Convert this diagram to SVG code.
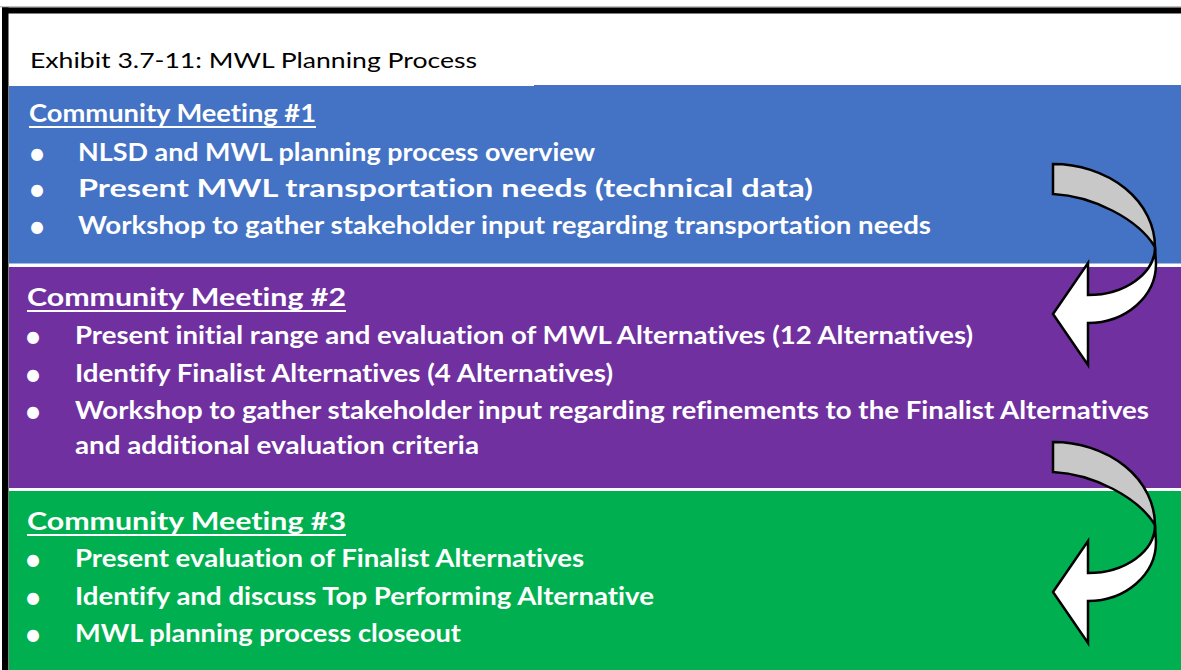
<svg xmlns="http://www.w3.org/2000/svg" width="1181" height="670" viewBox="0 0 1181 670">
<style>
text{font-variant-ligatures:none;font-feature-settings:"liga" 0,"clig" 0,"dlig" 0}
.t{font-family:Lato,"Open Sans","Liberation Sans",sans-serif;fill:#fff;font-weight:bold;font-size:24px}
.b{font-family:Lato,"Liberation Sans",sans-serif;fill:#fff;font-size:32px;text-anchor:middle}
.ttl{font-family:Lato,"Open Sans","Liberation Sans",sans-serif;fill:#000;font-size:22px}
.ul{stroke:#fff;stroke-width:2}
.ar{stroke:#000;stroke-width:2.5;stroke-linejoin:miter}
</style>
<defs>
<g id="arrow">
<path class="ar" fill="#c8c8c8" d="M0,0 A102,83 0 0 1 102,83 C85,55 40,32 0,30 Z"/>
<path class="ar" fill="#fff" d="M102,83 L103,100 A68,59 0 0 1 35,159 L35,201 L0,150 L35,99 L35,131 A67,48 0 0 0 102,83 Z"/>
</g>
</defs>
<rect x="0" y="0" width="1181" height="670" fill="#fff"/>
<rect x="0" y="6" width="1181" height="1.5" fill="#c0c0c0"/>
<rect x="2" y="7.5" width="1179" height="6" fill="#000"/>
<rect x="2" y="7.5" width="6.5" height="662.5" fill="#000"/>
<g id="title">
<text class="ttl" x="30" y="68" textLength="447" lengthAdjust="spacingAndGlyphs">Exhibit 3.7-11: MWL Planning Process</text>
</g>
<g id="meeting1">
<rect x="9" y="86" width="1172" height="177.5" fill="#4472c4"/>
<rect x="534" y="85" width="647" height="2" fill="#4472c4"/>
<text class="t" x="29" y="122" textLength="287" lengthAdjust="spacingAndGlyphs">Community Meeting #1</text>
<line class="ul" x1="29" y1="127" x2="316" y2="127"/>
<text class="b" x="37" y="165">•</text>
<text class="t" x="78" y="161" textLength="517" lengthAdjust="spacingAndGlyphs">NLSD and MWL planning process overview</text>
<text class="b" x="37" y="201">•</text>
<text class="t" x="78" y="197" textLength="735" lengthAdjust="spacingAndGlyphs">Present MWL transportation needs (technical data)</text>
<text class="b" x="37" y="238">•</text>
<text class="t" x="78" y="234" textLength="853" lengthAdjust="spacingAndGlyphs">Workshop to gather stakeholder input regarding transportation needs</text>
</g>
<g id="meeting2">
<rect x="9" y="267" width="1172" height="221" fill="#7030a0"/>
<text class="t" x="27" y="306" textLength="319" lengthAdjust="spacingAndGlyphs">Community Meeting #2</text>
<line class="ul" x1="27" y1="311" x2="346" y2="311"/>
<text class="b" x="33" y="348">•</text>
<text class="t" x="75" y="344" textLength="898" lengthAdjust="spacingAndGlyphs">Present initial range and evaluation of MWL Alternatives (12 Alternatives)</text>
<text class="b" x="33" y="386">•</text>
<text class="t" x="75" y="382" textLength="538" lengthAdjust="spacingAndGlyphs">Identify Finalist Alternatives (4 Alternatives)</text>
<text class="b" x="33" y="423">•</text>
<text class="t" x="75" y="419" textLength="1074" lengthAdjust="spacingAndGlyphs">Workshop to gather stakeholder input regarding refinements to the Finalist Alternatives</text>
<text class="t" x="75" y="454" textLength="404" lengthAdjust="spacingAndGlyphs">and additional evaluation criteria</text>
</g>
<g id="meeting3">
<rect x="9" y="491" width="1172" height="179" fill="#00b050"/>
<text class="t" x="27" y="530" textLength="319" lengthAdjust="spacingAndGlyphs">Community Meeting #3</text>
<line class="ul" x1="27" y1="535" x2="346" y2="535"/>
<text class="b" x="33" y="571">•</text>
<text class="t" x="75" y="567" textLength="509" lengthAdjust="spacingAndGlyphs">Present evaluation of Finalist Alternatives</text>
<text class="b" x="33" y="609">•</text>
<text class="t" x="75" y="605" textLength="579" lengthAdjust="spacingAndGlyphs">Identify and discuss Top Performing Alternative</text>
<text class="b" x="33" y="646">•</text>
<text class="t" x="75" y="642" textLength="386" lengthAdjust="spacingAndGlyphs">MWL planning process closeout</text>
</g>
<g id="connectors">
<use href="#arrow" x="1053" y="164"/>
<use href="#arrow" x="1053" y="442"/>
</g>
</svg>
